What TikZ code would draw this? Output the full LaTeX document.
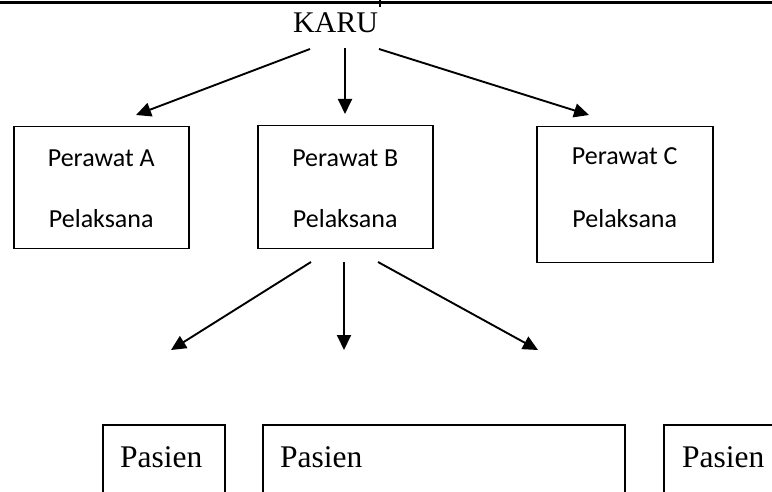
\documentclass[tikz,border=0pt]{standalone}
\usepackage{fontspec}
\setmainfont{Liberation Serif}
\newfontfamily\calibri{Carlito}
\usetikzlibrary{arrows.meta}
\tikzset{
    kotak/.style={draw, line width=1.5pt, inner sep=0pt, anchor=north west},
    panah/.style={-{Triangle[length=15pt,width=14pt]}, line width=1.9pt},
    teksB/.style={anchor=base, inner sep=0pt, font=\calibri\fontsize{26}{30}\selectfont},
    teksP/.style={anchor=base west, inner sep=0pt, font=\fontsize{31.5}{36}\selectfont}
}
\begin{document}
\begin{tikzpicture}[x=1pt,y=-1pt]
                \useasboundingbox (0,0) rectangle (772,492);
                \clip (0,0) rectangle (772,492);
                % garis tabel atas
                \draw[line width=3pt] (0,2.5) -- (772,2.5);
                \draw[line width=1.5pt] (380,0) -- (380,7);
                \node[anchor=base, inner sep=0pt, font=\fontsize{30}{34}\selectfont] (karu) at (335.5,33) {KARU};
                % perawat
                \node[kotak, minimum width=175pt, minimum height=122pt] (perA) at (13,126) {};
                \node[kotak, minimum width=175pt, minimum height=123pt] (perB) at (257,125) {};
                \node[kotak, minimum width=176pt, minimum height=136pt] (perC) at (536,126) {};
                \node[teksB] (namaA) at ([yshift=-41pt]perA.north) {Perawat A};
                \node[teksB] (tugasA) at ([yshift=-102pt]perA.north) {Pelaksana};
                \node[teksB] (namaB) at ([yshift=-42pt]perB.north) {Perawat B};
                \node[teksB] (tugasB) at ([yshift=-103pt]perB.north) {Pelaksana};
                \node[teksB] (namaC) at ([yshift=-39pt]perC.north) {Perawat C};
                \node[teksB] (tugasC) at ([yshift=-102pt]perC.north) {Pelaksana};
                % pasien
                \node[kotak, minimum width=122pt, minimum height=120pt] (pas1) at (102,424) {};
                \node[kotak, minimum width=362pt, minimum height=120pt] (pas2) at (262,424) {};
                \node[kotak, minimum width=150pt, minimum height=120pt] (pas3) at (663,424) {};
                \node[teksP] (teks1) at ([xshift=18pt,yshift=-43pt]pas1.north west) {Pasien};
                \node[teksP] (teks2) at ([xshift=18pt,yshift=-43pt]pas2.north west) {Pasien};
                \node[teksP] (teks3) at ([xshift=19pt,yshift=-43pt]pas3.north west) {Pasien};
                % ujung panah
                \coordinate (kL) at (310,49);
                \coordinate (kM) at (345,48);
                \coordinate (kR) at (379,49);
                \coordinate (aA) at (136,115);
                \coordinate (aB) at (345,114);
                \coordinate (aC) at (589,115);
                \coordinate (bL) at (311,262);
                \coordinate (bM) at (344,262);
                \coordinate (bR) at (378,262);
                \coordinate (p1) at (171,350);
                \coordinate (p2) at (344,350);
                \coordinate (p3) at (538,350);
                \draw[panah] (kL) -- (aA);
                \draw[panah] (kM) -- (aB);
                \draw[panah] (kR) -- (aC);
                \draw[panah] (bL) -- (p1);
                \draw[panah] (bM) -- (p2);
                \draw[panah] (bR) -- (p3);
\end{tikzpicture}
\end{document}
